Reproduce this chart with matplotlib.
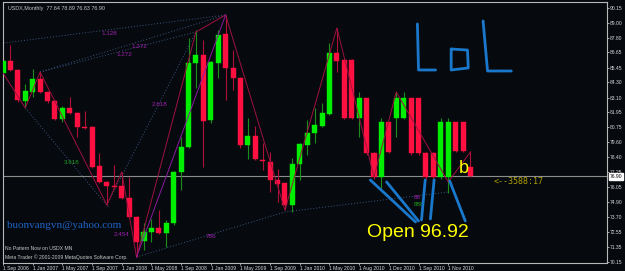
import matplotlib
matplotlib.use("Agg")
import matplotlib.pyplot as plt

# USDX monthly candles
opens = [85.03, 85.98, 85.27, 82.83, 83.54, 84.56, 83.54, 82.83, 81.41, 82.28,
         81.88, 80.78, 80.78, 77.71, 76.45, 76.06, 76.13, 75.19, 73.69, 71.81,
         72.51, 72.83, 72.44, 73.22, 77.24, 79.20, 85.82, 86.45, 81.33, 85.82,
         88.10, 85.43, 84.64, 79.36, 80.07, 78.18, 78.02, 76.61, 76.37, 74.64,
         77.87, 79.36, 80.31, 80.86, 81.80, 86.61, 86.06, 86.06, 81.49, 83.06,
         78.73, 76.84, 81.17, 81.49, 81.49, 83.06, 83.06, 78.73, 78.73, 76.84,
         76.84, 81.17, 81.17, 77.64]
closes = [85.98, 85.27, 82.91, 83.61, 84.56, 83.54, 82.83, 81.41, 82.28, 81.88,
          80.78, 80.72, 77.63, 76.45, 76.13, 76.02, 75.19, 73.69, 71.73, 72.51,
          72.83, 72.44, 73.22, 77.24, 79.20, 85.82, 86.45, 81.25, 85.90, 88.02,
          85.43, 84.64, 79.36, 80.07, 78.26, 78.10, 76.61, 76.29, 74.64, 77.87,
          79.44, 80.31, 80.94, 81.88, 86.61, 85.98, 81.49, 81.49, 83.06, 78.73,
          76.84, 81.17, 78.81, 83.06, 83.06, 78.73, 78.73, 76.84, 76.84, 81.17,
          81.17, 78.89, 78.89, 76.90]
highs = [86.10, 87.24, 85.35, 84.17, 85.35, 85.11, 83.60, 82.90, 82.43, 83.14,
         81.95, 82.04, 80.85, 78.73, 76.50, 77.79, 77.24, 76.84, 73.75, 73.22,
         73.50, 74.24, 73.46, 77.30, 79.99, 87.79, 88.42, 87.63, 86.00, 88.42,
         89.60, 86.84, 84.70, 81.49, 80.86, 79.52, 78.81, 77.47, 76.40, 78.34,
         79.50, 81.33, 82.28, 82.67, 87.39, 88.58, 86.10, 86.10, 83.54, 83.10,
         78.80, 81.49, 81.20, 83.54, 83.54, 83.10, 83.10, 78.80, 78.80, 81.49,
         81.49, 81.20, 81.20, 78.89]
lows = [84.90, 85.20, 82.75, 82.35, 83.14, 83.45, 82.70, 81.30, 81.17, 81.80,
        79.99, 80.60, 77.55, 76.35, 74.64, 75.90, 75.10, 73.60, 70.54, 71.09,
        71.73, 72.35, 71.33, 73.10, 75.82, 79.10, 83.85, 77.63, 81.10, 84.64,
        82.91, 83.69, 79.13, 78.26, 78.20, 77.39, 75.66, 74.87, 74.24, 74.09,
        76.61, 78.58, 79.52, 80.80, 81.70, 85.11, 81.40, 81.40, 79.99, 78.60,
        76.70, 75.82, 78.70, 79.99, 81.40, 78.60, 78.60, 76.70, 76.70, 76.70,
        75.58, 78.80, 78.80, 76.83]
last_price = 76.90

date_labels = ["1 Sep 2006", "1 Jan 2007", "1 May 2007", "1 Sep 2007", "1 Jan 2008",
               "1 May 2008", "1 Sep 2008", "1 Jan 2009", "1 May 2009", "1 Sep 2009",
               "1 Jan 2010", "1 May 2010", "1 Aug 2010", "1 Dec 2010", "1 Sep 2010",
               "1 Nov 2010"]
price_ticks = [90.15, 89.00, 87.80, 86.65, 85.45, 84.30, 83.10, 81.95, 80.75, 79.60,
               78.40, 77.25, 76.05, 74.90, 73.70, 72.55, 71.35, 70.15]

# zigzag / fibo overlays (bar index, price)
zz_x = [0, 3, 5, 14, 16, 18, 26, 30, 38, 45, 50, 53, 60, 63]
zz_y = [85.03, 82.28, 85.11, 74.64, 77.24, 70.54, 88.26, 89.60, 74.24, 88.58,
        76.84, 83.54, 76.45, 78.81]
purple_x = [18, 30]
purple_y = [70.54, 89.60]
fib_lines = [([0.1, 30], [87.39, 89.60]),
             ([5, 30], [85.11, 89.60]),
             ([5, 26], [85.11, 88.26]),
             ([3, 14.3], [82.28, 74.40]),
             ([14, 26], [74.64, 88.26]),
             ([18, 38, 60], [70.54, 74.09, 75.66])]
fib_labels = [(13.3, 88.18, "1.128", "#a020b0"), (17.3, 87.1, "1.272", "#a020b0"),
              (15.3, 86.45, "1.272", "#a020b0"), (8.2, 78.02, "3.618", "#20a020"),
              (20.0, 82.59, "2.618", "#a020b0"), (27.3, 72.12, "786", "#a020b0"),
              (14.9, 72.28, "2.454", "#a020b0"), (55.4, 75.25, "88", "#a020b0"),
              (55.4, 74.65, "888", "#20a020")]

# hand drawn blue scribbles
arrows = [([49.5, 55.6], [76.61, 73.30]), ([51.7, 56.0], [76.45, 73.38]),
          ([56.9, 56.4], [76.61, 73.46]), ([58.1, 57.6], [76.61, 73.54]),
          ([60.2, 62.3], [76.53, 73.38])]
lol_strokes = [([55.85, 56.0, 58.3], [88.89, 85.27, 85.27]),
               ([60.4, 60.4, 62.7, 62.6, 60.4], [86.92, 85.27, 85.43, 86.84, 86.92]),
               ([64.7, 65.3, 68.5], [89.13, 85.19, 85.19])]

bg = "#060a0e"
small = dict(family="Liberation Sans", fontsize=3.6)

fig = plt.figure(figsize=(6.25, 2.71), dpi=100, facecolor=bg)
ax = fig.add_axes([0.0048, 0.0295, 0.9664, 0.963], facecolor=bg)

up_c, dn_c = "#00ee00", "#ff1040"
for i in range(len(opens)):
    o, h, l, c = opens[i], highs[i], lows[i], closes[i]
    col = up_c if c > o else dn_c
    wick = "#1c8c1c" if c > o else "#b01038"
    ax.vlines(i, l, h, color=wick, lw=0.8, zorder=2)
    body = max(abs(c - o), 0.09)
    ax.bar(i, body, bottom=min(o, c), width=0.68, color=col, edgecolor=col,
           lw=0.3, zorder=3)

ax.plot(zz_x, zz_y, color="#a01040", lw=0.7, zorder=4)
ax.plot(purple_x, purple_y, color="#8a1aa0", lw=0.7, zorder=4)
for xs, ys in fib_lines:
    ax.plot(xs, ys, color="#3a5580", lw=0.7, ls=(0, (1, 2)), zorder=1)
for x, y, t, c in fib_labels:
    ax.text(x, y, t, color=c, ha="left", va="center", zorder=5,
            family="Liberation Sans", fontsize=4.5)

ax.axhline(last_price, color="#8c8c8c", lw=0.8, zorder=1)

for xs, ys in arrows:
    ax.plot(xs, ys, color="#1a78cc", lw=2.0, solid_capstyle="round", zorder=6)
for xs, ys in lol_strokes:
    ax.plot(xs, ys, color="#1a78cc", lw=2.0, solid_capstyle="round",
            solid_joinstyle="round", zorder=6)

ax.text(55.9, 72.5, "Open 96.92", color="#ffff00", fontsize=14,
        family="Liberation Sans", ha="center", va="center", zorder=7)
ax.text(61.4, 77.5, "b", color="#ffff00", fontsize=13,
        family="Liberation Sans", ha="left", va="center", zorder=7)
ax.text(66.1, 76.45, "<--3588:17", color="#b0a000", fontsize=6,
        family="DejaVu Sans Mono", ha="left", va="center", zorder=7)
ax.text(0.6, 73.06, "buonvangvn@yahoo.com", color="#1f63c6", fontsize=8,
        family="Liberation Serif", ha="left", va="center", zorder=7)

ax.text(0.008, 0.985, "USDX,Monthly  77.64 78.89 76.83 76.90", transform=ax.transAxes,
        color="#c8c8c8", ha="left", va="top", family="Liberation Sans", fontsize=3.9)
ax.text(0.004, 0.045, "No Pattern Now on USDX MN", transform=ax.transAxes,
        color="#c8c8c8", ha="left", va="bottom", **small)
ax.text(0.004, 0.01, "Meta Trader \u00a9 2001-2009 MetaQuotes Software Corp.",
        transform=ax.transAxes, color="#c8c8c8", ha="left", va="bottom", **small)

ax.set_xlim(0.135, 81.4)
ax.set_ylim(70.07, 90.62)

ax.yaxis.tick_right()
ax.set_yticks(price_ticks)
ax.set_yticklabels([f"{v:.2f}" for v in price_ticks])
ax.set_xticks(range(0, 4 * len(date_labels), 4))
ax.set_xticklabels(date_labels, ha="left")
for lab in ax.get_xticklabels() + ax.get_yticklabels():
    lab.set_family("Liberation Sans")
ax.tick_params(axis="both", colors="#c0c0c0", labelcolor="#d8d8d8",
               labelsize=3.6, length=1.6, width=0.6, pad=0.6)
for s in ax.spines.values():
    s.set_color("#b8b8b8")
    s.set_linewidth(0.8)

ax.annotate(f"{last_price:.2f}", xy=(1.0, last_price),
            xycoords=("axes fraction", "data"), xytext=(2, 0),
            textcoords="offset points", color="#000000", va="center", ha="left",
            bbox=dict(boxstyle="square,pad=0.15", fc="#ffffff", ec="#ffffff"),
            **small)

fig.savefig("out.png", dpi=100, facecolor=bg)
